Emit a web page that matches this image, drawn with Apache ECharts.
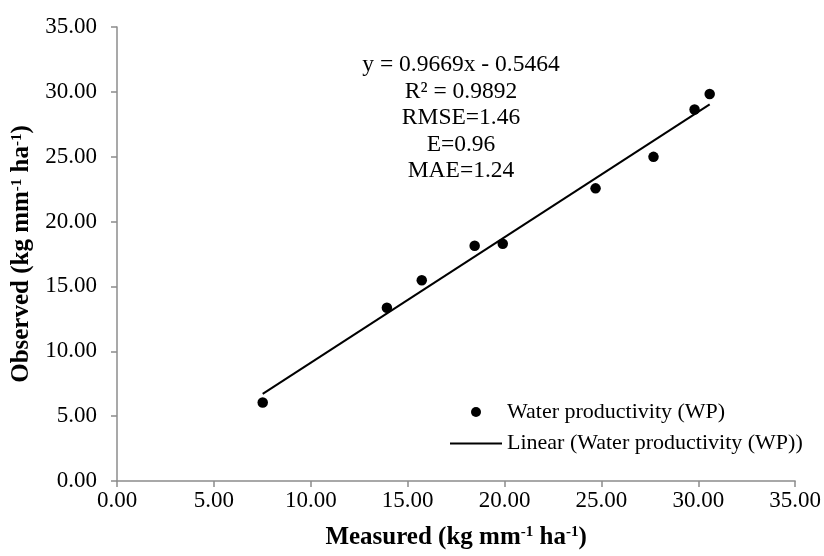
<!DOCTYPE html>
<html>
<head>
<meta charset="utf-8">
<script src="https://cdn.jsdelivr.net/npm/echarts@6/dist/echarts.min.js"></script>
<style>
  html, body { margin: 0; padding: 0; background: #fff; }
  #viz { width: 824px; height: 556px; }
</style>
</head>
<body>
<div id="viz"></div>
<script>
// values
var measured = [7.52, 13.93, 15.73, 18.46, 19.91, 24.70, 27.69, 29.81, 30.59];
var observed = [6.05, 13.36, 15.47, 18.14, 18.29, 22.56, 24.99, 28.64, 29.84];
var trendX = [7.52, 30.59];
var trendY = [6.72, 29.03];
var statLines = ['y = 0.9669x - 0.5464', 'R² = 0.9892', 'RMSE=1.46', 'E=0.96', 'MAE=1.24'];
var seriesNames = ['Water productivity (WP)', 'Linear (Water productivity (WP))'];

var font = 'Liberation Serif';

function pairs(xs, ys){
  var out = [];
  for (var i = 0; i < xs.length; i++){
    out.push([xs[i], ys[i]]);
  }
  return out;
}

var axisCommon = {
  type: 'value',
  min: 0,
  max: 35,
  interval: 5,
  splitLine: { show: false },
  axisLine: { lineStyle: { color: '#8c8c8c', width: 1.5 } },
  axisTick: { show: true, inside: false, length: 6, lineStyle: { color: '#8c8c8c', width: 1.5 } },
  axisLabel: {
    color: '#000',
    fontFamily: font,
    fontSize: 23,
    showMinLabel: true,
    showMaxLabel: true,
    formatter: function(v){ return v.toFixed(2); }
  },
  nameLocation: 'middle',
  nameTextStyle: {
    color: '#000',
    fontFamily: font,
    fontSize: 25,
    fontWeight: 'bold',
    rich: {
      s: { fontFamily: font, fontSize: 15, fontWeight: 'bold', color: '#000', verticalAlign: 'top' }
    }
  }
};

var dom = document.getElementById('viz');
var myChart = echarts.init(dom);

var option = {
  animation: false,
  grid: { left: 117, right: 27, top: 27, bottom: 75 },
  xAxis: echarts.util.merge({
    name: 'Measured (kg mm{s|-1} ha{s|-1})',
    nameGap: 44,
    axisLabel: { margin: 8 }
  }, axisCommon),
  yAxis: echarts.util.merge({
    name: 'Observed (kg mm{s|-1} ha{s|-1})',
    nameGap: 78,
    axisLabel: { margin: 20 }
  }, axisCommon),
  legend: {
    orient: 'vertical',
    left: 445,
    top: 396,
    itemWidth: 52,
    itemHeight: 10,
    itemGap: 9.5,
    symbolKeepAspect: true,
    textStyle: { color: '#000', fontFamily: font, fontSize: 22 },
    data: [
      { name: seriesNames[0], icon: 'circle' },
      { name: seriesNames[1], icon: 'path://M0,0L26,0L26,1L0,1Z', itemStyle: { color: '#000' } }
    ]
  },
  graphic: [{
    type: 'text',
    x: 461,
    y: 52,
    style: {
      text: statLines.join('\n'),
      font: '23.5px "Liberation Serif"',
      fill: '#000',
      lineHeight: 26.5,
      textAlign: 'center',
      align: 'center',
      textVerticalAlign: 'top',
      verticalAlign: 'top'
    }
  }],
  series: [{
    name: seriesNames[0],
    type: 'scatter',
    symbol: 'circle',
    symbolSize: 10.5,
    itemStyle: { color: '#000', opacity: 1 },
    data: pairs(measured, observed),
    z: 3
  }, {
    name: seriesNames[1],
    type: 'line',
    symbol: 'none',
    lineStyle: { color: '#000', width: 2 },
    itemStyle: { color: '#000' },
    data: pairs(trendX, trendY),
    z: 2
  }]
};

myChart.setOption(option);
</script>
</body>
</html>
